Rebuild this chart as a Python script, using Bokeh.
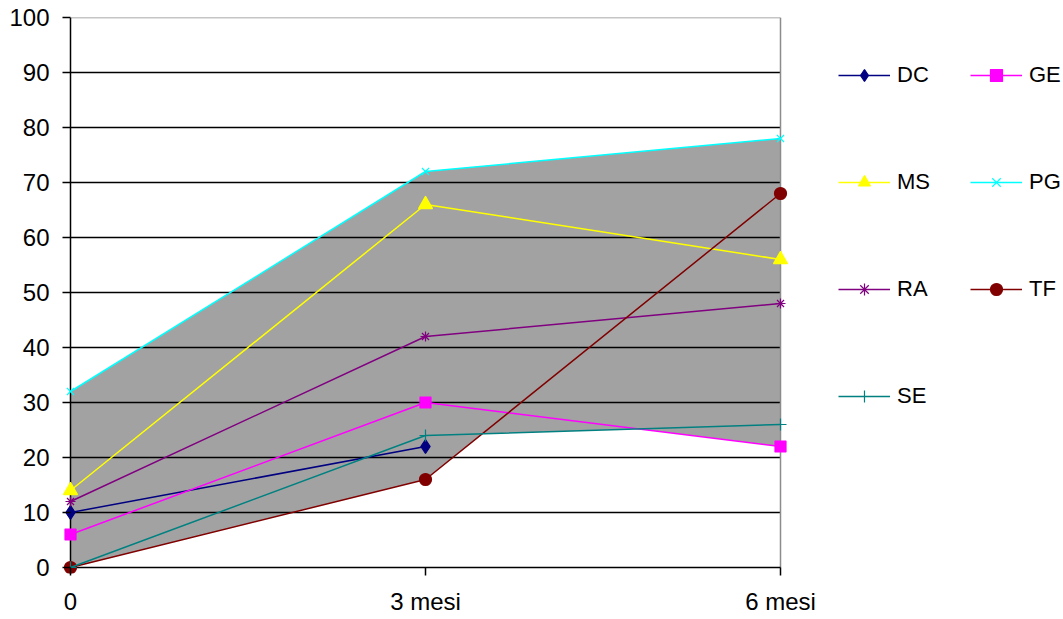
import numpy as np
from bokeh.plotting import figure
from bokeh.models import Range1d, FixedTicker, Legend, LegendItem
from bokeh.embed import file_html
from bokeh.resources import INLINE

# ---------------- data ----------------
periods = ["0", "3 mesi", "6 mesi"]
names = ["DC", "GE", "MS", "PG", "RA", "TF", "SE"]
DC = [10, 22, None]
GE = [6, 30, 22]
MS = [14, 66, 56]
PG = [32, 72, 78]
RA = [12, 42, 48]
TF = [0, 16, 68]
SE = [0, 24, 26]
y_ticks = list(range(0, 101, 10))
values = {"DC": DC, "GE": GE, "MS": MS, "PG": PG, "RA": RA, "TF": TF, "SE": SE}

# ---------------- styles ----------------
colors = {"DC": "#000080", "GE": "#FF00FF", "MS": "#FFFF00", "PG": "#00FFFF",
          "RA": "#800080", "TF": "#800000", "SE": "#008080"}
markers = {"DC": "diamond", "GE": "square", "MS": "triangle", "PG": "x",
           "RA": "asterisk", "TF": "circle", "SE": "cross"}
msizes = {"DC": 14, "GE": 11, "MS": 14, "PG": 10, "RA": 10, "TF": 12, "SE": 12}
FONT = "Liberation Sans"
TICK_FS = "24px"

xs_idx = list(range(len(periods)))
x_max = xs_idx[-1]
y_min, y_max = y_ticks[0], y_ticks[-1]

# ---------------- geometry (px) ----------------
W, H = 1063, 619
PLOT_L, PLOT_R, PLOT_T, PLOT_B = 70, 780, 17, 567   # data area edges
PAD_L, PAD_B = 12, 6
TICK = 8
GW, GH, LS = 52, 30, 7            # legend glyph width/height, label standoff
ROW_PITCH = 107
LEG_TOP = 60
FRAME_L = PLOT_L - PAD_L
FRAME_R = W
FRAME_B = PLOT_B + PAD_B
ppx = (PLOT_R - PLOT_L) / x_max
ppy = (PLOT_B - PLOT_T) / (y_max - y_min)

p = figure(width=W, height=H, output_backend="svg", toolbar_location=None,
           title=None,
           x_range=Range1d(-PAD_L / ppx, x_max + (FRAME_R - PLOT_R) / ppx),
           y_range=Range1d(y_min - PAD_B / ppy, y_max),
           min_border_left=FRAME_L, min_border_right=0,
           min_border_top=PLOT_T, min_border_bottom=H - FRAME_B)
p.outline_line_color = None
p.background_fill_color = "white"
p.border_fill_color = "white"
p.xgrid.visible = False
p.ygrid.visible = False

# ---------------- envelope fill ----------------
grid_x = np.linspace(0, x_max, 1201)
curves = []
for n in names:
    pts = [(i, v) for i, v in zip(xs_idx, values[n]) if v is not None]
    px_ = np.array([a for a, _ in pts], dtype=float)
    py_ = np.array([b for _, b in pts], dtype=float)
    c = np.interp(grid_x, px_, py_)
    c[(grid_x < px_.min()) | (grid_x > px_.max())] = np.nan
    curves.append(c)
curves = np.vstack(curves)
lower = np.nanmin(curves, axis=0)
upper = np.nanmax(curves, axis=0)
p.patch(np.concatenate([grid_x, grid_x[::-1]]), np.concatenate([upper, lower[::-1]]),
        fill_color="#A2A2A2", line_color=None)

# ---------------- gridlines & plot-area border ----------------
gy = y_ticks[1:-1]
p.segment(x0=[0] * len(gy), y0=gy, x1=[x_max] * len(gy), y1=gy,
          line_color="#000000", line_width=1.4)
p.segment(x0=[0, x_max], y0=[y_max, y_min], x1=[x_max, x_max], y1=[y_max, y_max],
          line_color="#8C8C8C", line_width=1.5)
p.segment(x0=[0, 0], y0=[y_min, y_min], x1=[0, x_max], y1=[y_max, y_min],
          line_color="#000000", line_width=1.5)

# ---------------- axes (ticks + labels only) ----------------
ya = p.yaxis[0]
ya.ticker = FixedTicker(ticks=y_ticks)
ya.axis_line_color = None
ya.major_tick_line_color = "#000000"
ya.major_tick_line_width = 1.5
ya.major_tick_in = PAD_L
ya.major_tick_out = TICK - PAD_L
ya.minor_tick_line_color = None
ya.major_label_standoff = 9
ya.major_label_text_font = FONT
ya.major_label_text_font_size = TICK_FS
ya.major_label_text_color = "#000000"

xa = p.xaxis[0]
xa.ticker = FixedTicker(ticks=xs_idx)
xa.major_label_overrides = {i: lab for i, lab in zip(xs_idx, periods)}
xa.axis_line_color = None
xa.major_tick_line_color = "#000000"
xa.major_tick_line_width = 1.5
xa.major_tick_in = PAD_B
xa.major_tick_out = TICK - PAD_B
xa.minor_tick_line_color = None
xa.major_label_standoff = 12
xa.major_label_text_font = FONT
xa.major_label_text_font_size = TICK_FS
xa.major_label_text_color = "#000000"

# ---------------- series ----------------
items = {}
for n in names:
    pts = [(i, v) for i, v in zip(xs_idx, values[n]) if v is not None]
    lx = [a for a, _ in pts]
    ly = [b for _, b in pts]
    lr = p.line(lx, ly, line_color=colors[n], line_width=1.5)
    filled = markers[n] in ("diamond", "square", "triangle", "circle")
    sr = p.scatter(lx, ly, marker=markers[n], size=msizes[n],
                   line_color=colors[n], fill_color=colors[n] if filled else None,
                   line_width=1.2)
    items[n] = LegendItem(label=n, renderers=[lr, sr])

col1 = ["DC", "MS", "RA", "SE"]
col2 = ["GE", "PG", "TF"]

def make_legend(keys, left_px):
    k = len(keys)
    h = k * GH + (k - 1) * (ROW_PITCH - GH)
    bottom_from_frame_bottom = FRAME_B - (LEG_TOP + h)
    return Legend(items=[items[key] for key in keys],
                  location=(left_px - FRAME_L, bottom_from_frame_bottom),
                  orientation="vertical", glyph_width=GW, glyph_height=GH,
                  label_height=GH, label_standoff=LS,
                  spacing=ROW_PITCH - GH, padding=0, margin=0,
                  border_line_color=None, background_fill_alpha=0,
                  label_text_font=FONT, label_text_font_size="22px",
                  label_text_color="#000000")

p.add_layout(make_legend(col1, 838))
p.add_layout(make_legend(col2, 970))

open("out.html", "w").write(file_html(p, INLINE))
